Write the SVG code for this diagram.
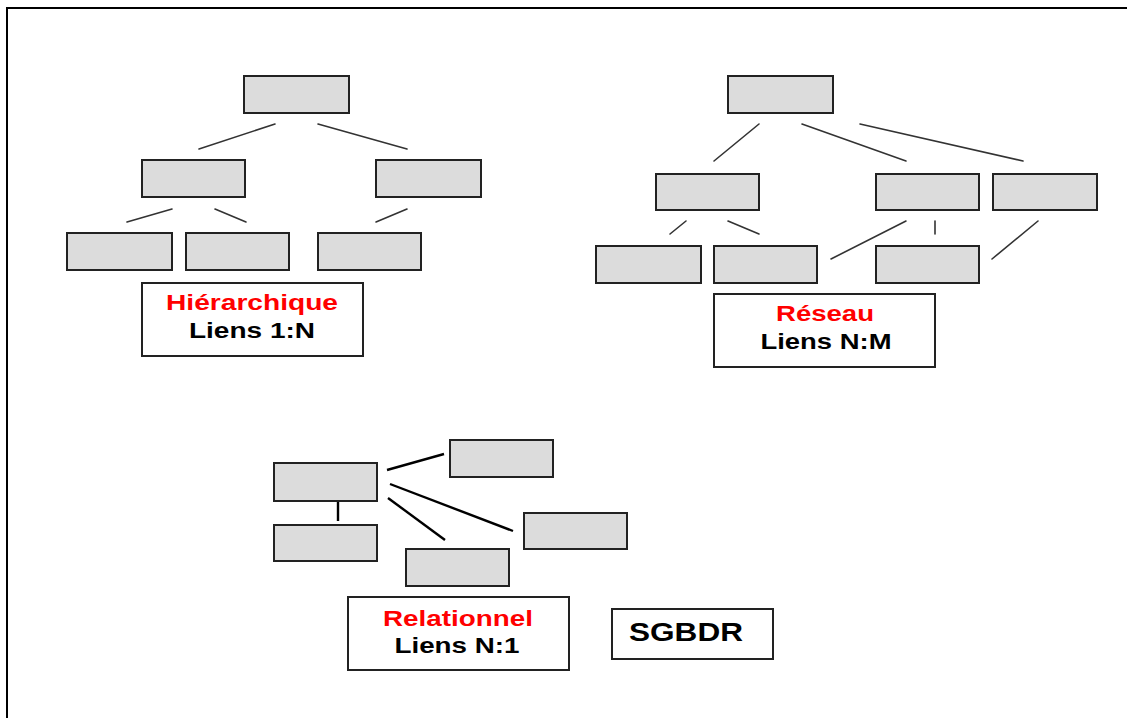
<svg xmlns="http://www.w3.org/2000/svg" width="1127" height="718" viewBox="0 0 1127 718">
  <style>
    .box { fill: #dcdcdc; stroke: #222; stroke-width: 2; }
    .label { fill: #ffffff; stroke: #222; stroke-width: 2; }
    .link { stroke: #333; stroke-width: 1.6; stroke-linecap: round; fill: none; }
    .rel { stroke: #000; stroke-width: 2.4; stroke-linecap: butt; fill: none; }
    .t { font-family: "Liberation Sans", Arial, sans-serif; font-weight: bold; font-size: 22px; text-anchor: middle; }
    .red { fill: #ff0000; }
    .blk { fill: #000; }
  </style>

  <rect width="1127" height="718" fill="#ffffff"/>
  <!-- page frame -->
  <path d="M7,718 V8 H1127" fill="none" stroke="#000" stroke-width="2"/>

  <!-- connectors -->
  <g id="connectors">
    <!-- hierarchical model -->
    <line class="link" x1="199" y1="149" x2="275" y2="124"/>
    <line class="link" x1="318" y1="124" x2="407" y2="149"/>
    <line class="link" x1="127" y1="222" x2="172" y2="209"/>
    <line class="link" x1="215" y1="209" x2="246" y2="222"/>
    <line class="link" x1="376" y1="222" x2="407" y2="209"/>
    <!-- network model -->
    <line class="link" x1="714" y1="161" x2="759" y2="124"/>
    <line class="link" x1="802" y1="124" x2="906" y2="161"/>
    <line class="link" x1="860" y1="124" x2="1023" y2="161"/>
    <line class="link" x1="670" y1="234" x2="686" y2="221"/>
    <line class="link" x1="728" y1="221" x2="759" y2="234"/>
    <line class="link" x1="831" y1="259" x2="906" y2="221"/>
    <line class="link" x1="935" y1="221" x2="935" y2="234"/>
    <line class="link" x1="992" y1="259" x2="1038" y2="221"/>
    <!-- relational model -->
    <line class="rel" x1="338" y1="501" x2="338" y2="521"/>
    <line class="rel" x1="387" y1="470" x2="444" y2="454"/>
    <line class="rel" x1="390" y1="484" x2="513" y2="531"/>
    <line class="rel" x1="388" y1="498" x2="445" y2="540"/>
  </g>

  <!-- hierarchical model -->
  <g id="hier-root"><rect class="box" x="244" y="76" width="105" height="37"/></g>
  <g id="hier-a"><rect class="box" x="142" y="160" width="103" height="37"/></g>
  <g id="hier-b"><rect class="box" x="376" y="160" width="105" height="37"/></g>
  <g id="hier-a1"><rect class="box" x="67" y="233" width="105" height="37"/></g>
  <g id="hier-a2"><rect class="box" x="186" y="233" width="103" height="37"/></g>
  <g id="hier-b1"><rect class="box" x="318" y="233" width="103" height="37"/></g>
  <g id="hier-label">
    <rect class="label" x="142" y="283" width="221" height="73"/>
    <text class="t red" x="252" y="310" textLength="172" lengthAdjust="spacingAndGlyphs">Hiérarchique</text>
    <text class="t blk" x="252" y="338" textLength="126" lengthAdjust="spacingAndGlyphs">Liens 1:N</text>
  </g>

  <!-- network model -->
  <g id="net-root"><rect class="box" x="728" y="76" width="105" height="37"/></g>
  <g id="net-a"><rect class="box" x="656" y="174" width="103" height="36"/></g>
  <g id="net-b"><rect class="box" x="876" y="174" width="103" height="36"/></g>
  <g id="net-c"><rect class="box" x="993" y="174" width="104" height="36"/></g>
  <g id="net-d"><rect class="box" x="596" y="246" width="105" height="37"/></g>
  <g id="net-e"><rect class="box" x="714" y="246" width="103" height="37"/></g>
  <g id="net-f"><rect class="box" x="876" y="246" width="103" height="37"/></g>
  <g id="net-label">
    <rect class="label" x="714" y="294" width="221" height="73"/>
    <text class="t red" x="825" y="321" textLength="98" lengthAdjust="spacingAndGlyphs">Réseau</text>
    <text class="t blk" x="826" y="349" textLength="131" lengthAdjust="spacingAndGlyphs">Liens N:M</text>
  </g>

  <!-- relational model -->
  <g id="rel-main"><rect class="box" x="274" y="463" width="103" height="38"/></g>
  <g id="rel-below"><rect class="box" x="274" y="525" width="103" height="36"/></g>
  <g id="rel-top"><rect class="box" x="450" y="440" width="103" height="37"/></g>
  <g id="rel-right"><rect class="box" x="524" y="513" width="103" height="36"/></g>
  <g id="rel-bottom"><rect class="box" x="406" y="549" width="103" height="37"/></g>
  <g id="rel-label">
    <rect class="label" x="348" y="597" width="221" height="73"/>
    <text class="t red" x="458" y="626" textLength="150" lengthAdjust="spacingAndGlyphs">Relationnel</text>
    <text class="t blk" x="457" y="653" textLength="125" lengthAdjust="spacingAndGlyphs">Liens N:1</text>
  </g>

  <g id="sgbdr">
    <rect class="label" x="612" y="609" width="161" height="50"/>
    <text class="t blk" x="629" y="641" style="text-anchor:start;font-size:26px" textLength="114" lengthAdjust="spacingAndGlyphs">SGBDR</text>
  </g>
</svg>
